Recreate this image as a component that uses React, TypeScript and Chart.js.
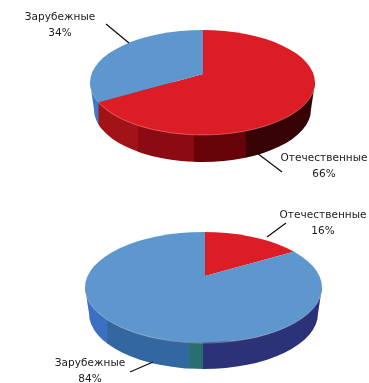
import React, { useEffect, useRef } from "react";
import { Chart, registerables } from "chart.js";

Chart.register(...registerables);

// Market shares shown by the two pies, in percent.
const categories = ["Отечественные", "Зарубежные"];
const sharesUpper = [66, 34];
const sharesLower = [16, 84];

const RED = "#dc1d25";
const BLUE = "#5d97cd";
const TILT = 0.43;
const FONT = '10.5px "DejaVu Sans", sans-serif';

const upperWall = [
  { until: "slice", color: "#3f78c6" },
  { until: 0.213, color: "#a21317" },
  { until: 0.462, color: "#8c0a12" },
  { until: 0.693, color: "#660309" },
  { until: 1, color: "#380304" },
];
const lowerWall = [
  { until: 0.093, color: "#3a70c0" },
  { until: 0.439, color: "#32689f" },
  { until: 0.498, color: "#28706f" },
  { until: 1, color: "#2b3278" },
];

type Panel = {
  shares: number[];
  top: number;
  height: number;
  apex: [number, number];
  ellipse: [number, number, number, number];
  depth: number;
  wall: { until: number | string; color: string }[];
  leaders: number[][];
  labels: [number, number, number][];
};

const panels: Panel[] = [
  {
    shares: sharesUpper,
    top: 0,
    height: 190,
    apex: [203, 74],
    ellipse: [202.5, 82.5, 112.5, 52.5],
    depth: 27,
    wall: upperWall,
    leaders: [
      [106, 24, 129, 43],
      [257, 153, 282, 172],
    ],
    labels: [
      [324, 158, 0],
      [60, 17, 1],
    ],
  },
  {
    shares: sharesLower,
    top: 190,
    height: 193,
    apex: [205, 86],
    ellipse: [203.5, 97.5, 118.5, 55.5],
    depth: 26,
    wall: lowerWall,
    leaders: [
      [286, 33, 267, 47],
      [153, 172, 130, 182],
    ],
    labels: [
      [323, 25, 0],
      [90, 173, 1],
    ],
  },
];

// Where a ray leaving the apex at the given angle meets the rim of the top face.
function rimX(panel: Panel, angle: number): number {
  const [ax, ay] = panel.apex;
  const [cx, cy, rx, ry] = panel.ellipse;
  const dx = Math.cos(angle);
  const dy = Math.sin(angle) * TILT;
  const ox = ax - cx;
  const oy = ay - cy;
  const a = (dx * dx) / (rx * rx) + (dy * dy) / (ry * ry);
  const b = 2 * ((ox * dx) / (rx * rx) + (oy * dy) / (ry * ry));
  const c = (ox * ox) / (rx * rx) + (oy * oy) / (ry * ry) - 1;
  const t = (-b + Math.sqrt(b * b - 4 * a * c)) / (2 * a);
  return ax + t * dx;
}

function makePlugin(panel: Panel) {
  const [cx, cy, rx, ry] = panel.ellipse;
  return {
    id: "tiltedPie",
    beforeDatasetsDraw(chart: any) {
      const ctx: CanvasRenderingContext2D = chart.ctx;
      const arc = chart.getDatasetMeta(0).data[0];

      // Side wall: the rim swept downwards and tapered, split into shaded bands.
      let from = cx - rx;
      for (const band of panel.wall) {
        const to =
          band.until === "slice"
            ? rimX(panel, arc.endAngle)
            : cx - rx + 2 * rx * (band.until as number);
        ctx.save();
        ctx.beginPath();
        ctx.rect(from, 0, to - from + 0.5, chart.height);
        ctx.clip();
        ctx.beginPath();
        ctx.ellipse(cx, cy + panel.depth, rx - 4, ry, 0, 0, Math.PI);
        ctx.lineTo(cx - rx, cy);
        ctx.lineTo(cx + rx, cy);
        ctx.closePath();
        ctx.fillStyle = band.color;
        ctx.fill();
        ctx.restore();
        from = to;
      }

      // Top face: the library's arcs, flattened and clipped to the rim.
      const scale = 1.6;
      ctx.save();
      ctx.beginPath();
      ctx.ellipse(cx, cy, rx, ry, 0, 0, Math.PI * 2);
      ctx.clip();
      ctx.translate(panel.apex[0], panel.apex[1]);
      ctx.scale(scale, scale * TILT);
      ctx.translate(-arc.x, -arc.y);
    },
    afterDatasetsDraw(chart: any) {
      const ctx: CanvasRenderingContext2D = chart.ctx;
      ctx.restore();

      // Pale highlight along the front rim.
      ctx.beginPath();
      ctx.ellipse(cx, cy, rx, ry, 0, 0.12, Math.PI - 0.12);
      ctx.strokeStyle = "rgba(255,215,215,0.35)";
      ctx.lineWidth = 1;
      ctx.stroke();

      ctx.strokeStyle = "#111111";
      ctx.lineWidth = 1.3;
      for (const [x1, y1, x2, y2] of panel.leaders) {
        ctx.beginPath();
        ctx.moveTo(x1, y1);
        ctx.lineTo(x2, y2);
        ctx.stroke();
      }

      ctx.font = FONT;
      ctx.fillStyle = "#1a1a1a";
      ctx.textAlign = "center";
      ctx.textBaseline = "middle";
      (ctx as any).letterSpacing = "0.05px";
      for (const [x, y, index] of panel.labels) {
        ctx.fillText(categories[index], x, y);
        ctx.fillText(`${panel.shares[index]}%`, x, y + 16);
      }
    },
  };
}

function PiePanel({ panel }: { panel: Panel }) {
  const ref = useRef<HTMLCanvasElement | null>(null);
  useEffect(() => {
    const chart = new Chart(ref.current as HTMLCanvasElement, {
      type: "pie",
      data: {
        labels: categories,
        datasets: [
          {
            data: panel.shares,
            backgroundColor: [RED, BLUE],
            borderWidth: 0,
            clip: false,
          } as any,
        ],
      },
      options: {
        responsive: false,
        animation: false,
        layout: { padding: 0 },
        plugins: { legend: { display: false }, tooltip: { enabled: false } },
      },
      plugins: [makePlugin(panel)],
    });
    return () => chart.destroy();
  }, [panel]);
  return (
    <canvas
      ref={ref}
      width={369}
      height={panel.height}
      style={{ position: "absolute", left: 0, top: panel.top, width: 369, height: panel.height }}
    />
  );
}

export default function App() {
  return (
    <div style={{ position: "fixed", left: 0, top: 0, width: 369, height: 383, background: "#fff" }}>
      {panels.map((panel) => (
        <PiePanel key={panel.top} panel={panel} />
      ))}
    </div>
  );
}
